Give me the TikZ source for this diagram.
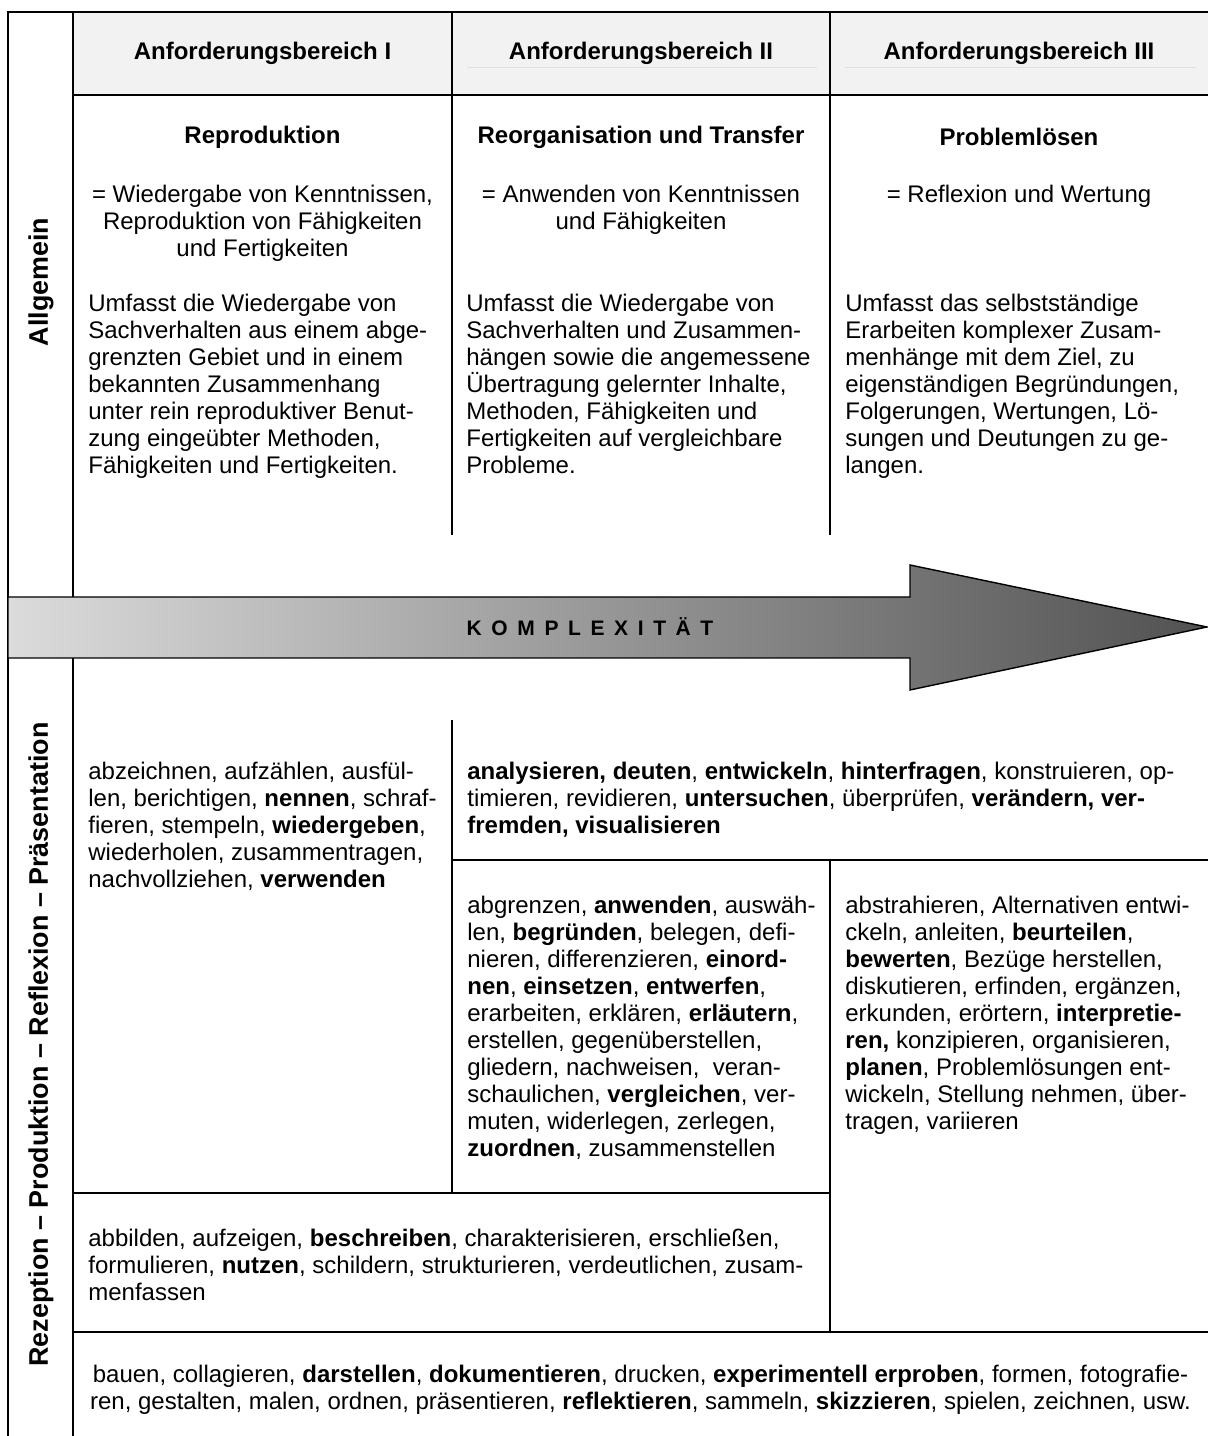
\documentclass[tikz,border=0pt]{standalone}
\usepackage{fontspec}
\setmainfont{Liberation Sans}
\newcommand{\txtsize}{\fontsize{13.66}{15.37}\selectfont}
\tikzset{
  rule/.style={line width=1.1pt},
  hdr/.style={font=\txtsize\bfseries, inner sep=0pt},
  sub/.style={font=\txtsize, align=center, inner sep=0pt, anchor=north},
  body/.style={font=\txtsize, align=left, inner sep=0pt, anchor=north west},
  side/.style={font=\fontsize{15.3}{18}\selectfont\bfseries, rotate=90, inner sep=0pt}
}
\begin{document}
\begin{tikzpicture}
  \useasboundingbox (0,0) rectangle (24.16,28.72);
  % header band
  \fill[black!5] (1.46,26.82) rectangle (24.16,28.48);
  \draw[black!12, line width=0.5pt] (9.34,27.38) -- (16.34,27.38);
  \draw[black!12, line width=0.5pt] (16.9,27.38) -- (23.92,27.38);
  % table rules
  \draw[rule] (0.16,0) -- (0.16,28.48) -- (24.16,28.48);
  \draw[rule] (1.46,28.48) -- (1.46,16.78);
  \draw[rule] (1.46,15.56) -- (1.46,0);
  \draw[rule] (1.46,26.82) -- (24.16,26.82);
  \draw[rule] (9.04,28.48) -- (9.04,18.02);
  \draw[rule] (16.6,28.48) -- (16.6,18.02);
  \draw[rule] (9.04,14.32) -- (9.04,4.86);
  \draw[rule] (9.04,11.52) -- (24.16,11.52);
  \draw[rule] (16.6,11.52) -- (16.6,2.08);
  \draw[rule] (1.46,4.86) -- (16.6,4.86);
  \draw[rule] (1.46,2.08) -- (24.16,2.08);
  % arrow
  \draw[line width=0.8pt, left color=black!14, right color=black!68]
    (0.16,16.78) -- (18.2,16.78) -- (18.2,17.42) -- (24.14,16.18)
    -- (18.2,14.92) -- (18.2,15.56) -- (0.16,15.56) -- cycle;
  \node[font=\fontsize{11.95}{14}\selectfont\bfseries\addfontfeature{LetterSpace=18}] (komplex) at (11.8,16.18) {K O M P L E X I T Ä T};

  \node[side] (allg) at (0.82,23.08) {Allgemein};
  \node[side] (rpr) at (0.82,7.83) {Rezeption – Produktion – Reflexion – Präsentation};

  \node[hdr] (hdrI) at (5.25,27.66) {Anforderungsbereich I};
  \node[hdr] (hdrII) at (12.82,27.66) {Anforderungsbereich II};
  \node[hdr] (hdrIII) at (20.38,27.66) {Anforderungsbereich III};

  \node[hdr] (titI) at (5.25,25.98) {Reproduktion};
  \node[hdr] (titII) at (12.82,25.98) {Reorganisation und Transfer};
  \node[hdr] (titIII) at (20.38,25.98) {Problemlösen};

  \node[sub] (defI) at (5.25,25.02) {= Wiedergabe von Kenntnissen,\\ Reproduktion von Fähigkeiten\\ und Fertigkeiten};
  \node[sub] (defII) at (12.82,25.02) {= Anwenden von Kenntnissen\\ und Fähigkeiten};
  \node[sub] (defIII) at (20.38,25.02) {= Reflexion und Wertung};

  \node[body] (txtI) at (1.76,22.84) {Umfasst die Wiedergabe von\\ Sachverhalten aus einem abge-\\ grenzten Gebiet und in einem\\ bekannten Zusammenhang\\ unter rein reproduktiver Benut-\\ zung eingeübter Methoden,\\ Fähigkeiten und Fertigkeiten.};
  \node[body] (txtII) at (9.32,22.84) {Umfasst die Wiedergabe von\\ Sachverhalten und Zusammen-\\ hängen sowie die angemessene\\ Übertragung gelernter Inhalte,\\ Methoden, Fähigkeiten und\\ Fertigkeiten auf vergleichbare\\ Probleme.};
  \node[body] (txtIII) at (16.9,22.84) {Umfasst das selbstständige\\ Erarbeiten komplexer Zusam-\\ menhänge mit dem Ziel, zu\\ eigenständigen Begründungen,\\ Folgerungen, Wertungen, Lö-\\ sungen und Deutungen zu ge-\\ langen.};

  % verbs
  \node[body] (verbI) at (1.76,13.48) {abzeichnen, aufzählen, ausfül-\\ len, berichtigen, \textbf{nennen}, schraf-\\ fieren, stempeln, \textbf{wiedergeben},\\ wiederholen, zusammentragen,\\ nachvollziehen, \textbf{verwenden}};
  \node[body] (verbIIa) at (9.34,13.48) {\textbf{analysieren, deuten}, \textbf{entwickeln}, \textbf{hinterfragen}, konstruieren, op-\\ timieren, revidieren, \textbf{untersuchen}, überprüfen, \textbf{verändern, ver-}\\ \textbf{fremden, visualisieren}};
  \node[body] (verbII) at (9.34,10.80) {abgrenzen, \textbf{anwenden}, auswäh-\\ len, \textbf{begründen}, belegen, defi-\\ nieren, differenzieren, \textbf{einord-}\\ \textbf{nen}, \textbf{einsetzen}, \textbf{entwerfen},\\ erarbeiten, erklären, \textbf{erläutern},\\ erstellen, gegenüberstellen,\\ gliedern, nachweisen,\ \ veran-\\ schaulichen, \textbf{vergleichen}, ver-\\ muten, widerlegen, zerlegen,\\ \textbf{zuordnen}, zusammenstellen};
  \node[body] (verbIII) at (16.9,10.80) {abstrahieren, Alternativen entwi-\\ ckeln, anleiten, \textbf{beurteilen},\\ \textbf{bewerten}, Bezüge herstellen,\\ diskutieren, erfinden, ergänzen,\\ erkunden, erörtern, \textbf{interpretie-}\\ \textbf{ren,} konzipieren, organisieren,\\ \textbf{planen}, Problemlösungen ent-\\ wickeln, Stellung nehmen, über-\\ tragen, variieren};
  \node[body] (verbAll) at (1.76,4.14) {abbilden, aufzeigen, \textbf{beschreiben}, charakterisieren, erschließen,\\ formulieren, \textbf{nutzen}, schildern, strukturieren, verdeutlichen, zusam-\\ menfassen};
  \node[sub] (verbPrak) at (12.81,1.42) {bauen, collagieren, \textbf{darstellen}, \textbf{dokumentieren}, drucken, \textbf{experimentell erproben}, formen, fotografie-\\ ren, gestalten, malen, ordnen, präsentieren, \textbf{reflektieren}, sammeln, \textbf{skizzieren}, spielen, zeichnen, usw.};
\end{tikzpicture}
\end{document}
